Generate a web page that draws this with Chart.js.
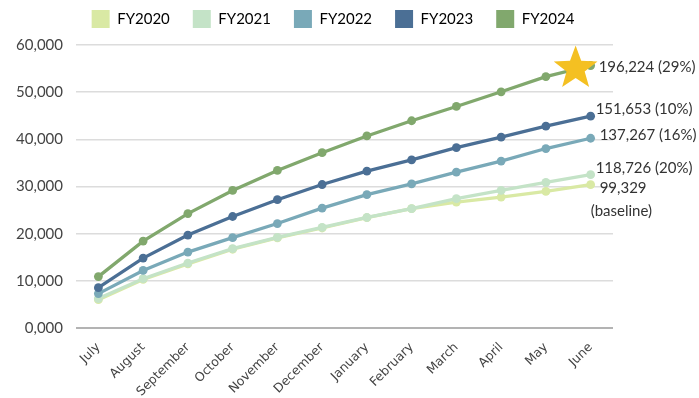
<!DOCTYPE html>
<html>
<head>
<meta charset="utf-8">
<script src="https://cdn.jsdelivr.net/npm/chart.js@4/dist/chart.umd.min.js"></script>
<style>
  html, body { margin: 0; padding: 0; background: #ffffff; }
  #wrap { width: 699px; height: 398px; position: relative; }
</style>
</head>
<body>
<div id="wrap"><canvas id="chart"></canvas></div>
<script>
// Months of the fiscal year
const months = ['July', 'August', 'September', 'October', 'November', 'December',
                'January', 'February', 'March', 'April', 'May', 'June'];

// Cumulative monthly totals per fiscal year
const fy2020 = [6000, 10300, 13600, 16700, 19100, 21200, 23400, 25300, 26700, 27750, 28960, 30380];
const fy2021 = [6230, 10460, 13770, 16820, 19200, 21330, 23430, 25300, 27410, 29170, 30870, 32500];
const fy2022 = [7290, 12200, 16100, 19150, 22150, 25420, 28280, 30570, 33050, 35380, 38050, 40230];
const fy2023 = [8560, 14830, 19700, 23640, 27200, 30420, 33250, 35660, 38250, 40450, 42780, 44900];
const fy2024 = [10900, 18420, 24250, 29170, 33410, 37170, 40720, 43940, 46970, 50080, 53300, 55650];

const seriesNames = ['FY2020', 'FY2021', 'FY2022', 'FY2023', 'FY2024'];

// Year-end totals written beside each line
const endLabels = [['99,329', '(baseline)'], ['118,726 (20%)'], ['137,267 (16%)'],
                   ['151,653 (10%)'], ['196,224 (29%)']];

// Y axis tick values
const yTicks = [0, 10000, 20000, 30000, 40000, 50000, 60000];

const colors = ['#d9e9a4', '#c4e3c7', '#79a9b8', '#4b6f95', '#81a86d'];
const FONT = 'Lato, "Open Sans", sans-serif';

const seriesData = [fy2020, fy2021, fy2022, fy2023, fy2024];

const datasets = seriesData.map((values, i) => ({
  label: seriesNames[i],
  data: values,
  borderColor: colors[i],
  backgroundColor: colors[i],
  pointBackgroundColor: colors[i],
  pointBorderColor: colors[i],
  pointBorderWidth: 0,
  pointRadius: 4.4,
  pointHoverRadius: 4.4,
  borderWidth: 3.3,
  tension: 0,
  fill: false,
  order: seriesNames.length - i   // later years draw on top
}));

// Placement of the end-of-line labels, relative to the last point
const labelOffsets = [
  [{ dx: 9, dy: 3 }, { dx: 0, dy: 26 }],
  [{ dx: 5, dy: -7 }],
  [{ dx: 9, dy: -3 }],
  [{ dx: 5, dy: -7 }],
  [{ dx: 8, dy: 2 }]
];

function drawStar(ctx, cx, cy, outer, inner) {
  ctx.beginPath();
  for (let k = 0; k < 10; k++) {
    const r = k % 2 === 0 ? outer : inner;
    const a = -Math.PI / 2 + k * Math.PI / 5;
    const x = cx + r * Math.cos(a);
    const y = cy + r * Math.sin(a);
    if (k === 0) ctx.moveTo(x, y); else ctx.lineTo(x, y);
  }
  ctx.closePath();
  ctx.fill();
}

// Extra space kept below the legend row
const legendGap = {
  id: 'legendGap',
  beforeInit(chart) {
    const legend = chart.legend;
    if (!legend) return;
    const fit = legend.fit;
    legend.fit = function () {
      fit.call(this);
      this.height += 7;
    };
  }
};

const endLabelPlugin = {
  id: 'endLabels',
  afterDatasetsDraw(chart) {
    const ctx = chart.ctx;
    ctx.save();
    // star marking the latest year
    const topMeta = chart.getDatasetMeta(4);
    const lastTop = topMeta.data[topMeta.data.length - 1];
    ctx.fillStyle = '#f4c022';
    drawStar(ctx, lastTop.x - 15, lastTop.y + 3, 23, 9.5);

    ctx.font = '15px ' + FONT;
    ctx.fillStyle = '#333333';
    ctx.textAlign = 'left';
    ctx.textBaseline = 'middle';
    endLabels.forEach((lines, i) => {
      const meta = chart.getDatasetMeta(i);
      const pt = meta.data[meta.data.length - 1];
      lines.forEach((txt, j) => {
        const off = labelOffsets[i][j];
        ctx.fillText(txt, pt.x + off.dx, pt.y + off.dy);
      });
    });
    ctx.restore();
  }
};

new Chart(document.getElementById('chart'), {
  type: 'line',
  data: { labels: months, datasets },
  plugins: [legendGap, endLabelPlugin],
  options: {
    responsive: true,
    maintainAspectRatio: false,
    animation: false,
    layout: { padding: { top: -13, right: 33, bottom: 0, left: 0 } },
    plugins: {
      tooltip: { enabled: false },
      legend: {
        position: 'top',
        sort: (a, b) => a.datasetIndex - b.datasetIndex,
        labels: {
          boxWidth: 18,
          boxHeight: 18,
          padding: 23,
          color: '#444444',
          font: { family: FONT, size: 15 },
          generateLabels(chart) {
            return chart.data.datasets.map((ds, i) => ({
              text: ds.label,
              fillStyle: ds.backgroundColor,
              strokeStyle: ds.backgroundColor,
              lineWidth: 0,
              hidden: false,
              datasetIndex: i
            }));
          }
        }
      }
    },
    scales: {
      x: {
        offset: true,
        grid: { display: false },
        border: { display: false },
        afterFit(scale) { scale.height = 70; },
        ticks: {
          color: '#444444',
          font: { family: '"DejaVu Sans", sans-serif', size: 12.5 },
          minRotation: 45,
          maxRotation: 45,
          padding: 4,
          autoSkip: false
        }
      },
      y: {
        min: 0,
        max: 60000,
        afterFit(scale) { scale.width = 76; },
        afterBuildTicks(scale) { scale.ticks = yTicks.map(v => ({ value: v })); },
        border: { display: false },
        grid: {
          drawTicks: false,
          color: c => (c.tick && c.tick.value === 0) ? '#b3b3b3' : '#dcdcdc',
          lineWidth: c => (c.tick && c.tick.value === 0) ? 2 : 1.5
        },
        ticks: {
          color: '#444444',
          padding: 13,
          font: { family: FONT, size: 15 },
          callback: v => v === 0 ? '0,000' : v.toLocaleString('en-US')
        }
      },
      // empty right-hand margin that holds the year-end labels
      yRight: {
        position: 'right',
        display: true,
        grid: { display: false },
        border: { display: false },
        ticks: { display: false },
        afterFit(scale) { scale.width = 53; }
      }
    }
  }
});
</script>
</body>
</html>
